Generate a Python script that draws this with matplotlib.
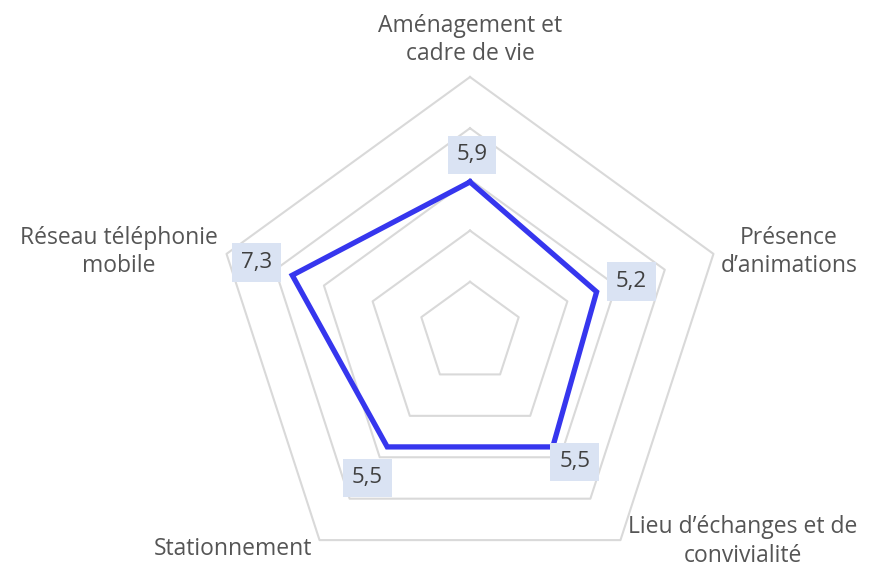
import numpy as np
import matplotlib.pyplot as plt

categories = ['Aménagement et\ncadre de vie', 'Présence\nd\u2019animations',
              'Lieu d\u2019échanges et de\nconvivialité', 'Stationnement',
              'Réseau téléphonie\nmobile']
values = [5.9, 5.2, 5.5, 5.5, 7.3]
value_labels = ['5,9', '5,2', '5,5', '5,5', '7,3']
rings = [2, 4, 6, 8, 10]

plt.rcParams['font.family'] = ['Open Sans', 'DejaVu Sans']

fig = plt.figure(figsize=(8.69, 5.71), dpi=100)
# center at (470, 333) px, radius 256 px
ax = fig.add_axes([(470 - 256) / 869, (571 - 333 - 256) / 571, 512 / 869, 512 / 571],
                  projection='polar')
ax.set_theta_offset(np.pi / 2)
ax.set_theta_direction(-1)
ax.set_ylim(0, 10)
ax.grid(False)
ax.spines['polar'].set_visible(False)
ax.set_xticks([])
ax.set_yticks([])
ax.patch.set_alpha(0)

n = len(categories)
angles = np.arange(n) * 2 * np.pi / n
closed = np.append(angles, angles[0])

for r in rings:
    ax.plot(closed, [r] * (n + 1), color='#d9d9d9', lw=1.5, zorder=1, clip_on=False)

ax.plot(closed, values + values[:1], color='#3636ee', lw=3.8, zorder=3,
        solid_joinstyle='miter')

# category labels
cat_style = [
    ((0, 11), 'center', 'bottom'),
    ((7, 2), 'left', 'center'),
    ((8, 25), 'left', 'top'),
    ((-7, -9), 'right', 'center'),
    ((-9, 2), 'right', 'center'),
]
for a, lab, (off, ha, va) in zip(angles, categories, cat_style):
    ax.annotate(lab, xy=(a, 10), xytext=off, textcoords='offset pixels',
                ha=ha, va=va, multialignment='center', fontsize=16.5,
                color='#555555', linespacing=1.25, annotation_clip=False)

# value labels
val_off = [(2, 27), (35, 10), (22, -15), (-20, -31), (-36, 13)]
for a, v, txt, off in zip(angles, values, value_labels, val_off):
    ax.annotate(txt, xy=(a, v), xytext=off, textcoords='offset pixels',
                ha='center', va='center', fontsize=16, color='#404040',
                bbox=dict(boxstyle='square,pad=0.4', fc='#dae3f3', ec='none'),
                zorder=5, annotation_clip=False)

fig.savefig('out.png', dpi=100)
